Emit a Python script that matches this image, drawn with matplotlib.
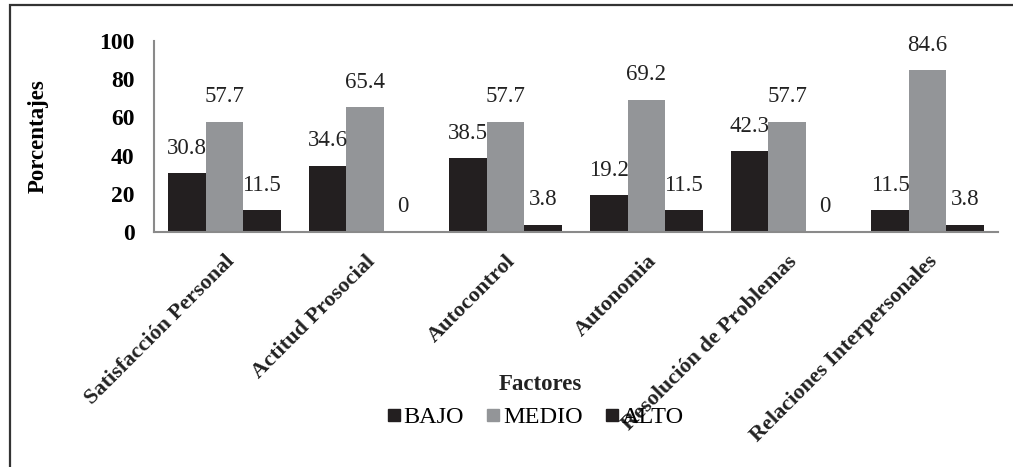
import matplotlib
matplotlib.use('Agg')
import matplotlib.pyplot as plt
from matplotlib.lines import Line2D
from matplotlib.patches import Rectangle
import numpy as np

# data
factores = ['Satisfacción Personal', 'Actitud Prosocial', 'Autocontrol',
            'Autonomia', 'Resolución de Problemas', 'Relaciones Interpersonales']
bajo = [30.8, 34.6, 38.5, 19.2, 42.3, 11.5]
medio = [57.7, 65.4, 57.7, 69.2, 57.7, 84.6]
alto = [11.5, 0, 3.8, 11.5, 0, 3.8]
series_names = ['BAJO', 'MEDIO', 'ALTO']
yticks = [0, 20, 40, 60, 80, 100]

DARK = '#231f20'
GRAY = '#939598'
AXIS = '#8a8a8a'

plt.rcParams['font.family'] = 'Liberation Serif'

fig = plt.figure(figsize=(10.13, 4.67), dpi=100)
ax = fig.add_axes([154 / 1013, 1 - 232 / 467, (998 - 154) / 1013, (232 - 41) / 467])

x = np.arange(len(factores))
w = 0.267
colors = [DARK, GRAY, DARK]
for i, vals in enumerate([bajo, medio, alto]):
    pos = x + (i - 1) * w
    ax.bar(pos, vals, width=w, color=colors[i], edgecolor='none')
    for px, v in zip(pos, vals):
        ax.annotate('%g' % v, (px, v), xytext=(0, 18), textcoords='offset points',
                    ha='center', va='center', fontsize=16.5, color='#222222')

ax.set_xlim(-0.5, len(factores) - 0.5)
ax.set_ylim(0, 100)
ax.set_yticks(yticks)
ax.set_yticklabels([str(t) for t in yticks], fontsize=17, fontweight='bold')
ax.set_xticks(x)
ax.set_xticklabels(factores, rotation=45, ha='right', rotation_mode='anchor',
                   fontsize=16, fontweight='bold', color='#222222')
ax.tick_params(axis='both', length=0)
ax.tick_params(axis='y', pad=14)
ax.tick_params(axis='x', pad=14)

for s in ['top', 'right']:
    ax.spines[s].set_visible(False)
ax.spines['left'].set_color(AXIS)
ax.spines['bottom'].set_color(AXIS)
ax.spines['left'].set_linewidth(1.5)
ax.spines['bottom'].set_linewidth(1.5)

ax.set_ylabel('Porcentajes', fontsize=16.5, fontweight='bold')
ax.yaxis.set_label_coords(-0.125, 0.5)

fig.text(540 / 1013, 1 - 385 / 467, 'Factores', ha='center', va='center',
         fontsize=16.5, fontweight='bold', color='#222222')

handles = [Line2D([], [], marker='s', linestyle='none', markersize=8,
                  markerfacecolor=c, markeredgecolor=c) for c in colors]
fig.legend(handles, series_names, loc='center', bbox_to_anchor=(535 / 1013, 1 - 417 / 467),
           ncol=3, frameon=False, fontsize=17.5, handletextpad=0.1, columnspacing=0.9,
           handlelength=0.6)

# outer frame (left and top edges visible in the reference)
fig.patches.append(Rectangle((10 / 1013, -0.1), 1.2, 1.1 - 5 / 467,
                             transform=fig.transFigure, fill=False,
                             edgecolor='#333333', linewidth=1.6))

fig.savefig('out.png', dpi=100)
